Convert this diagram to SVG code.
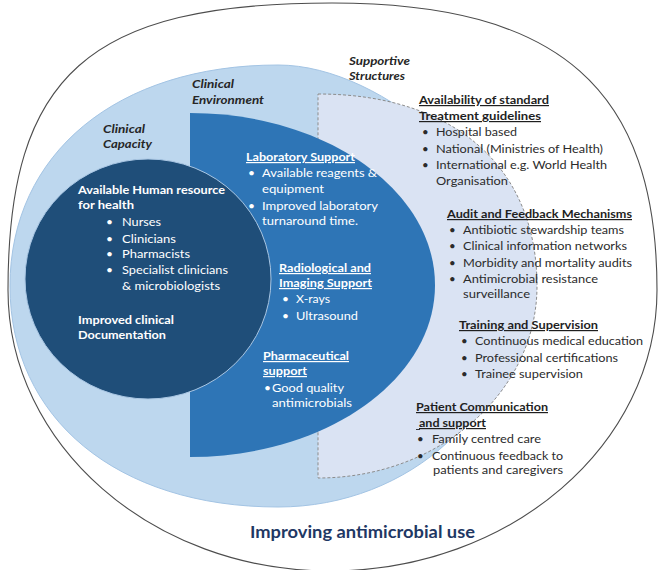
<svg xmlns="http://www.w3.org/2000/svg" width="660" height="570" viewBox="0 0 660 570">
<style>
text { font-family: Lato, "Open Sans", "Liberation Sans", sans-serif; }
.lbl { font-size: 12px; font-weight: 700; font-style: italic; fill: #262626; }
.w { font-size: 12px; fill: #ffffff; }
.wb { font-size: 12px; font-weight: 700; fill: #ffffff; }
.wh { font-size: 12px; font-weight: 700; fill: #ffffff; text-decoration: underline; }
.d { font-size: 11.5px; fill: #2b2b2b; }
.dh { font-size: 12px; font-weight: 700; fill: #1f1f1f; text-decoration: underline; }
.title { font-size: 17px; font-weight: 700; fill: #1f3864; }
</style>
<rect x="0" y="0" width="660" height="570" fill="#ffffff"/>

<g id="outer">
  <path d="M 8,290 C 8,74.75 89,3 332,3 C 559.5,3 657,89 657,290 C 657,445 510.6,571 330,571 C 152,571 8,445 8,290 Z" fill="#ffffff" stroke="#4d4d4d" stroke-width="1.1"/>
</g>

<g id="clinical-environment-area">
  <path d="M 10,286 C 10,153.4 117.2,65 278,65 C 386,65 518,186.5 518,286 C 518,408 410.6,507 278,507 C 117.2,507 10,418.6 10,286 Z" fill="#bdd7ee" stroke="#a3c4e4" stroke-width="1"/>
</g>

<g id="supportive-structures">
  <path d="M 318,94 C 453.8,94 537,167 537,286 C 537,392 439,478 318,478 Z" fill="#dae3f3" stroke="#8c8c8c" stroke-width="1" stroke-dasharray="3,2"/>
</g>

<g id="clinical-environment">
  <path d="M 190,113 C 325.3,113 435,190 435,285 C 435,380 325.3,457 190,457 Z" fill="#2e75b6"/>
</g>

<g id="clinical-capacity">
  <ellipse cx="148" cy="279" rx="123" ry="120" fill="#1f4e79" stroke="#a9c6e3" stroke-width="1"/>
</g>

<g id="labels">
  <text class="lbl" x="103" y="133" textLength="42" lengthAdjust="spacingAndGlyphs">Clinical</text>
  <text class="lbl" x="103" y="148" textLength="49" lengthAdjust="spacingAndGlyphs">Capacity</text>
  <text class="lbl" x="192" y="88" textLength="42" lengthAdjust="spacingAndGlyphs">Clinical</text>
  <text class="lbl" x="192" y="104" textLength="72" lengthAdjust="spacingAndGlyphs">Environment</text>
  <text class="lbl" x="349" y="65" textLength="61" lengthAdjust="spacingAndGlyphs">Supportive</text>
  <text class="lbl" x="349" y="80" textLength="56" lengthAdjust="spacingAndGlyphs">Structures</text>
</g>

<g id="capacity-text">
  <text class="wb" x="78" y="194" textLength="147" lengthAdjust="spacingAndGlyphs">Available Human resource</text>
  <text class="wb" x="78" y="209" textLength="56" lengthAdjust="spacingAndGlyphs">for health</text>
  <text class="w" x="106" y="226">•</text>
  <text class="w" x="106" y="243">•</text>
  <text class="w" x="106" y="258">•</text>
  <text class="w" x="106" y="274">•</text>
  <text class="w" x="122" y="226" textLength="39" lengthAdjust="spacingAndGlyphs">Nurses</text>
  <text class="w" x="122" y="243" textLength="54" lengthAdjust="spacingAndGlyphs">Clinicians</text>
  <text class="w" x="122" y="258" textLength="68" lengthAdjust="spacingAndGlyphs">Pharmacists</text>
  <text class="w" x="122" y="274" textLength="106" lengthAdjust="spacingAndGlyphs">Specialist clinicians</text>
  <text class="w" x="122" y="290" textLength="98" lengthAdjust="spacingAndGlyphs">&amp; microbiologists</text>
  <text class="wb" x="78" y="324" textLength="96" lengthAdjust="spacingAndGlyphs">Improved clinical</text>
  <text class="wb" x="78" y="339" textLength="88" lengthAdjust="spacingAndGlyphs">Documentation</text>
</g>

<g id="environment-text">
  <text class="wh" x="246" y="161" textLength="109" lengthAdjust="spacingAndGlyphs">Laboratory Support</text>
  <text class="w" x="248" y="177">•</text>
  <text class="w" x="262" y="177" textLength="115" lengthAdjust="spacingAndGlyphs">Available reagents &amp;</text>
  <text class="w" x="262" y="193" textLength="62" lengthAdjust="spacingAndGlyphs">equipment</text>
  <text class="w" x="248" y="210">•</text>
  <text class="w" x="262" y="210" textLength="116" lengthAdjust="spacingAndGlyphs">Improved laboratory</text>
  <text class="w" x="262" y="225" textLength="96" lengthAdjust="spacingAndGlyphs">turnaround time.</text>
  <text class="wh" x="279" y="272" textLength="92" lengthAdjust="spacingAndGlyphs">Radiological and</text>
  <text class="wh" x="279" y="287" textLength="93" lengthAdjust="spacingAndGlyphs">Imaging Support</text>
  <text class="w" x="282" y="303">•</text>
  <text class="w" x="296" y="303" textLength="34" lengthAdjust="spacingAndGlyphs">X-rays</text>
  <text class="w" x="282" y="320">•</text>
  <text class="w" x="296" y="320" textLength="62" lengthAdjust="spacingAndGlyphs">Ultrasound</text>
  <text class="wh" x="263" y="360" textLength="86" lengthAdjust="spacingAndGlyphs">Pharmaceutical</text>
  <text class="wh" x="263" y="375" textLength="44" lengthAdjust="spacingAndGlyphs">support</text>
  <text class="w" x="264" y="392">•</text>
  <text class="w" x="272" y="392" textLength="72" lengthAdjust="spacingAndGlyphs">Good quality</text>
  <text class="w" x="272" y="407" textLength="80" lengthAdjust="spacingAndGlyphs">antimicrobials</text>
</g>

<g id="guidelines">
  <text class="dh" x="419" y="104" textLength="130" lengthAdjust="spacingAndGlyphs">Availability of standard</text>
  <text class="dh" x="419" y="120" textLength="122" lengthAdjust="spacingAndGlyphs">Treatment guidelines</text>
  <text class="d" x="422" y="136">•</text>
  <text class="d" x="436" y="136" textLength="81" lengthAdjust="spacingAndGlyphs">Hospital based</text>
  <text class="d" x="422" y="153">•</text>
  <text class="d" x="436" y="153" textLength="167" lengthAdjust="spacingAndGlyphs">National (Ministries of Health)</text>
  <text class="d" x="422" y="169">•</text>
  <text class="d" x="436" y="169" textLength="171" lengthAdjust="spacingAndGlyphs">International e.g. World Health</text>
  <text class="d" x="436" y="185" textLength="72" lengthAdjust="spacingAndGlyphs">Organisation</text>
</g>

<g id="audit">
  <text class="dh" x="447" y="218" textLength="185" lengthAdjust="spacingAndGlyphs">Audit and Feedback Mechanisms</text>
  <text class="d" x="449" y="234">•</text>
  <text class="d" x="463" y="234" textLength="161" lengthAdjust="spacingAndGlyphs">Antibiotic stewardship teams</text>
  <text class="d" x="449" y="250">•</text>
  <text class="d" x="463" y="250" textLength="164" lengthAdjust="spacingAndGlyphs">Clinical information networks</text>
  <text class="d" x="449" y="267">•</text>
  <text class="d" x="463" y="267" textLength="169" lengthAdjust="spacingAndGlyphs">Morbidity and mortality audits</text>
  <text class="d" x="449" y="283">•</text>
  <text class="d" x="463" y="283" textLength="135" lengthAdjust="spacingAndGlyphs">Antimicrobial resistance</text>
  <text class="d" x="463" y="298" textLength="67" lengthAdjust="spacingAndGlyphs">surveillance</text>
</g>

<g id="training">
  <text class="dh" x="459" y="329" textLength="139" lengthAdjust="spacingAndGlyphs">Training and Supervision</text>
  <text class="d" x="461" y="345">•</text>
  <text class="d" x="475" y="345" textLength="168" lengthAdjust="spacingAndGlyphs">Continuous medical education</text>
  <text class="d" x="461" y="362">•</text>
  <text class="d" x="475" y="362" textLength="143" lengthAdjust="spacingAndGlyphs">Professional certifications</text>
  <text class="d" x="461" y="378">•</text>
  <text class="d" x="475" y="378" textLength="108" lengthAdjust="spacingAndGlyphs">Trainee supervision</text>
</g>

<g id="patient">
  <text class="dh" x="416" y="411" textLength="132" lengthAdjust="spacingAndGlyphs">Patient Communication</text>
  <text class="dh" x="419" y="427" textLength="67" lengthAdjust="spacingAndGlyphs">and support</text>
  <line x1="416" y1="429.5" x2="420" y2="429.5" stroke="#1f1f1f" stroke-width="0.9"/>
  <text class="d" x="417" y="443">•</text>
  <text class="d" x="432" y="443" textLength="109" lengthAdjust="spacingAndGlyphs">Family centred care</text>
  <text class="d" x="417" y="460">•</text>
  <text class="d" x="432" y="460" textLength="131" lengthAdjust="spacingAndGlyphs">Continuous feedback to</text>
  <text class="d" x="433" y="474" textLength="130" lengthAdjust="spacingAndGlyphs">patients and caregivers</text>
</g>

<g id="title">
  <text class="title" x="250" y="538" textLength="225" lengthAdjust="spacingAndGlyphs">Improving  antimicrobial  use</text>
</g>
</svg>
